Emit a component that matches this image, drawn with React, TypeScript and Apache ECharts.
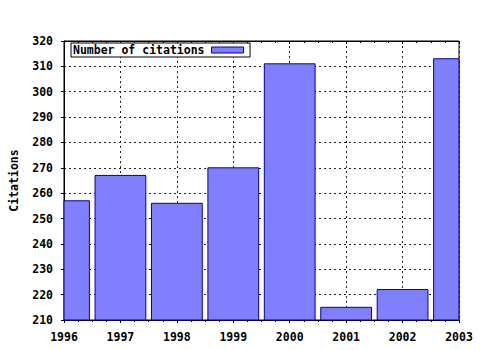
import React, { useEffect, useRef } from "react";
import * as echarts from "echarts";

const years = [1996, 1997, 1998, 1999, 2000, 2001, 2002, 2003];
const citations = [257, 267, 256, 270, 311, 215, 222, 313];
const seriesName = "Number of citations";
const yAxisTitle = "Citations";
const yMin = 210;
const yMax = 320;

const FONT = "'DejaVu Sans Mono', 'Liberation Mono', monospace";

export default function App() {
  const ref = useRef<HTMLDivElement>(null);
  useEffect(() => {
    document.body.style.margin = "0";
    const chart = echarts.init(ref.current!, null, { renderer: "svg" });
    const labelStyle = { color: "#000", fontFamily: FONT, fontWeight: "bold" as const, fontSize: 11.5 };
    chart.setOption({
      animation: false,
      backgroundColor: "#fff",
      grid: {
        left: 64,
        right: 21,
        top: 41,
        bottom: 30,
        outerBoundsMode: "none",
        containLabel: false,
        show: true,
        borderColor: "#000",
        borderWidth: 1,
        backgroundColor: "transparent",
      },
      legend: {
        show: true,
        left: 71,
        top: 43,
        align: "right",
        icon: "rect",
        itemWidth: 32,
        itemHeight: 6,
        itemGap: 0,
        padding: [1, 6, 1, 2],
        backgroundColor: "#fff",
        borderColor: "#000",
        borderWidth: 1,
        borderRadius: 0,
        itemStyle: { color: "#8080ff", borderColor: "#0000a0", borderWidth: 1 },
        textStyle: { ...labelStyle, lineHeight: 12, padding: [0, 2, 0, 0] },
        data: [seriesName],
      },
      xAxis: [
        {
          type: "value",
          min: 1996,
          max: 2003,
          interval: 1,
          position: "bottom",
          axisLine: { show: true, lineStyle: { color: "#000", width: 1 } },
          axisTick: { show: true, inside: false, length: 3, lineStyle: { color: "#000" } },
          minorTick: { show: true, splitNumber: 4, length: 2, lineStyle: { color: "#000" } },
          axisLabel: { ...labelStyle, margin: 11, formatter: (v: number) => String(v) },
          splitLine: { show: true, lineStyle: { color: "#222", type: [2, 3], width: 1 } },
        },
        {
          type: "value",
          min: 1996,
          max: 2003,
          interval: 1,
          position: "top",
          axisLine: { show: true, lineStyle: { color: "#000", width: 1 } },
          axisTick: { show: true, inside: true, length: 3, lineStyle: { color: "#000" } },
          minorTick: { show: true, splitNumber: 4, length: 2, lineStyle: { color: "#000" } },
          axisLabel: { show: false },
          splitLine: { show: false },
        },
      ],
      yAxis: {
        type: "value",
        min: yMin,
        max: yMax,
        interval: 10,
        name: yAxisTitle,
        nameLocation: "middle",
        nameRotate: 90,
        nameGap: 44,
        nameTextStyle: { ...labelStyle },
        axisLine: { show: true, lineStyle: { color: "#000", width: 1 } },
        axisTick: { show: true, inside: false, length: 3, lineStyle: { color: "#000" } },
        axisLabel: { ...labelStyle, margin: 11 },
        splitLine: { show: true, lineStyle: { color: "#222", type: [2, 3], width: 1 } },
      },
      series: [
        {
          name: seriesName,
          type: "custom",
          xAxisIndex: 0,
          encode: { x: 0, y: 1 },
          data: years.map((y, i) => [y, citations[i]]),
          itemStyle: { color: "#8080ff", borderColor: "#0000a0", borderWidth: 1 },
          renderItem: (params: any, api: any) => {
            const x = api.value(0);
            const v = api.value(1);
            const top = api.coord([x, v]);
            const base = api.coord([x, yMin]);
            const w = api.size([0.9, 0])[0];
            const shape = echarts.graphic.clipRectByRect(
              { x: top[0] - w / 2, y: top[1], width: w, height: base[1] - top[1] },
              {
                x: params.coordSys.x,
                y: params.coordSys.y,
                width: params.coordSys.width,
                height: params.coordSys.height,
              }
            );
            if (!shape) return null;
            return {
              type: "rect",
              shape,
              style: { fill: "#8080ff", stroke: "#0000a0", lineWidth: 1 },
            };
          },
        },
      ],
    });
    return () => chart.dispose();
  }, []);
  return (
    <div
      ref={ref}
      style={{ width: 480, height: 350, position: "absolute", left: 0, top: 0 }}
    />
  );
}
